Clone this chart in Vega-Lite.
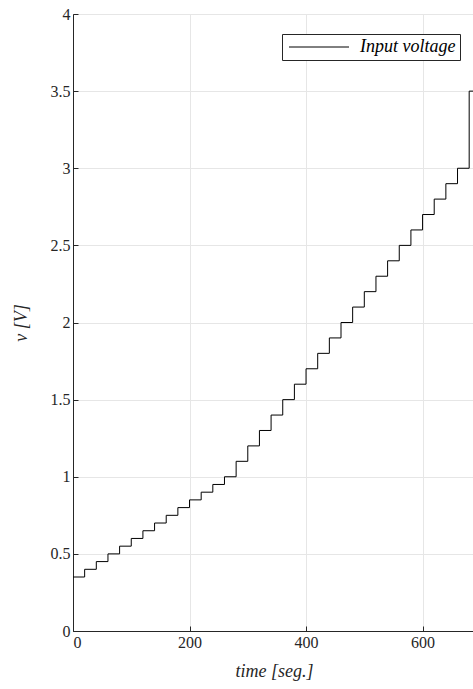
{
  "$schema": "https://vega.github.io/schema/vega-lite/v6.json",
  "width": 402,
  "height": 617,
  "autosize": {"type": "none"},
  "padding": {"left": 73, "top": 14, "right": 0, "bottom": 58},
  "background": "white",
  "config": {
    "view": {"stroke": "#262626", "strokeWidth": 1},
    "axis": {
      "domainColor": "#262626",
      "tickColor": "#262626",
      "gridColor": "#e6e6e6",
      "labelColor": "#262626",
      "titleColor": "#262626",
      "labelFont": "Times New Roman, Liberation Serif, serif",
      "titleFont": "Times New Roman, Liberation Serif, serif",
      "labelFontSize": 16,
      "titleFontSize": 18,
      "titleFontWeight": "normal",
      "titleFontStyle": "italic",
      "tickSize": -5
    }
  },
  "data": {
    "values": [
      {"t": 0, "v": 0.35, "s": "Input voltage"},
      {"t": 20, "v": 0.4, "s": "Input voltage"},
      {"t": 40, "v": 0.45, "s": "Input voltage"},
      {"t": 60, "v": 0.5, "s": "Input voltage"},
      {"t": 80, "v": 0.55, "s": "Input voltage"},
      {"t": 100, "v": 0.6, "s": "Input voltage"},
      {"t": 120, "v": 0.65, "s": "Input voltage"},
      {"t": 140, "v": 0.7, "s": "Input voltage"},
      {"t": 160, "v": 0.75, "s": "Input voltage"},
      {"t": 180, "v": 0.8, "s": "Input voltage"},
      {"t": 200, "v": 0.85, "s": "Input voltage"},
      {"t": 220, "v": 0.9, "s": "Input voltage"},
      {"t": 240, "v": 0.95, "s": "Input voltage"},
      {"t": 260, "v": 1.0, "s": "Input voltage"},
      {"t": 280, "v": 1.1, "s": "Input voltage"},
      {"t": 300, "v": 1.2, "s": "Input voltage"},
      {"t": 320, "v": 1.3, "s": "Input voltage"},
      {"t": 340, "v": 1.4, "s": "Input voltage"},
      {"t": 360, "v": 1.5, "s": "Input voltage"},
      {"t": 380, "v": 1.6, "s": "Input voltage"},
      {"t": 400, "v": 1.7, "s": "Input voltage"},
      {"t": 420, "v": 1.8, "s": "Input voltage"},
      {"t": 440, "v": 1.9, "s": "Input voltage"},
      {"t": 460, "v": 2.0, "s": "Input voltage"},
      {"t": 480, "v": 2.1, "s": "Input voltage"},
      {"t": 500, "v": 2.2, "s": "Input voltage"},
      {"t": 520, "v": 2.3, "s": "Input voltage"},
      {"t": 540, "v": 2.4, "s": "Input voltage"},
      {"t": 560, "v": 2.5, "s": "Input voltage"},
      {"t": 580, "v": 2.6, "s": "Input voltage"},
      {"t": 600, "v": 2.7, "s": "Input voltage"},
      {"t": 620, "v": 2.8, "s": "Input voltage"},
      {"t": 640, "v": 2.9, "s": "Input voltage"},
      {"t": 660, "v": 3.0, "s": "Input voltage"},
      {"t": 680, "v": 3.5, "s": "Input voltage"},
      {"t": 700, "v": 3.5, "s": "Input voltage"}
    ]
  },
  "mark": {"type": "line", "interpolate": "step-after", "strokeWidth": 1, "clip": true},
  "encoding": {
    "x": {
      "field": "t",
      "type": "quantitative",
      "scale": {"domain": [0, 690], "nice": false},
      "axis": {"values": [0, 200, 400, 600], "title": "time [seg.]", "labelPadding": 8, "titlePadding": 12, "grid": true}
    },
    "y": {
      "field": "v",
      "type": "quantitative",
      "scale": {"domain": [0, 4], "nice": false},
      "axis": {"values": [0, 0.5, 1, 1.5, 2, 2.5, 3, 3.5, 4], "format": "~g", "title": "v [V]", "labelPadding": 8, "titlePadding": 20, "grid": true}
    },
    "color": {
      "field": "s",
      "type": "nominal",
      "scale": {"range": ["#000000"]},
      "legend": {
        "title": null,
        "orient": "none",
        "legendX": 209,
        "legendY": 20,
        "symbolType": "M-1,0H9",
        "symbolSize": 144,
        "symbolStrokeWidth": 1,
        "strokeColor": "#262626",
        "fillColor": "white",
        "padding": 4,
        "labelFont": "Times New Roman, Liberation Serif, serif",
        "labelFontStyle": "italic",
        "labelFontSize": 18,
        "labelColor": "#000000",
        "labelOffset": 56
      }
    }
  }
}
